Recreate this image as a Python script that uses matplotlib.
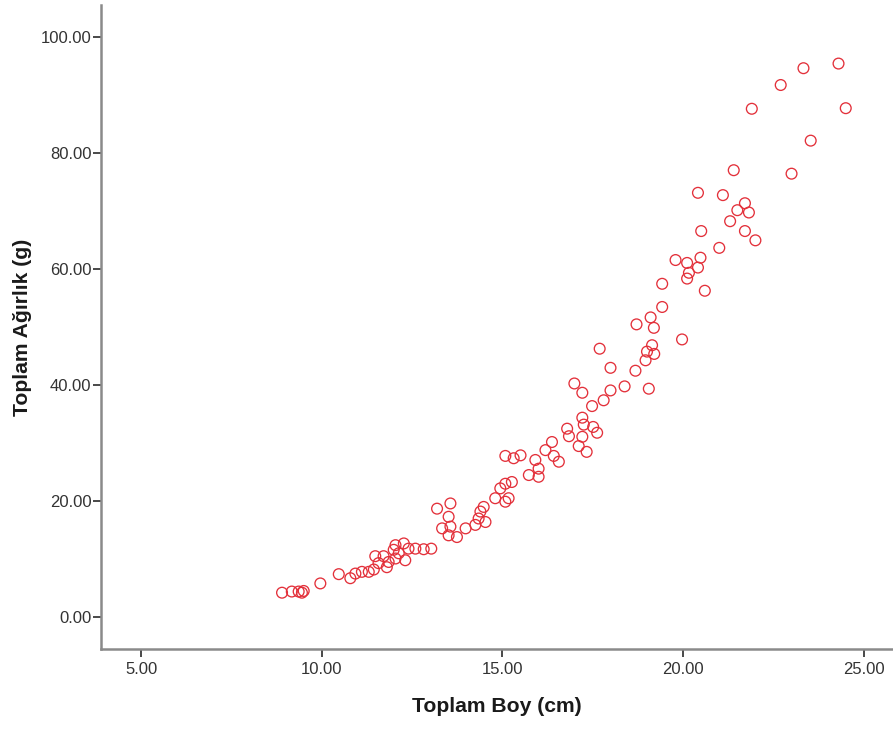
import matplotlib
matplotlib.use("Agg")
import matplotlib.pyplot as plt

# Toplam Boy (cm)
boy = [8.90, 9.17, 9.36, 9.50, 9.45, 9.96, 10.47, 10.79, 10.93, 11.11,
       11.30, 11.44, 11.48, 11.57, 11.71, 11.80, 11.85, 11.99, 12.04, 12.04,
       12.13, 12.27, 12.31, 12.40, 12.59, 12.82, 13.03,
       13.19, 13.56, 13.51, 13.33, 13.56, 13.51, 13.74, 13.98, 14.25, 14.34,
       14.53, 14.39, 14.48, 14.80, 14.94, 15.08, 15.26, 15.17, 15.08, 15.08,
       15.31, 15.50, 15.91, 16.00, 15.73, 16.00, 16.19, 16.37, 16.42, 16.56,
       16.79, 16.84, 16.99, 17.21, 17.11, 17.33, 17.21, 17.25, 17.51, 17.62,
       17.21, 17.48, 17.80, 17.99, 17.69, 17.99, 18.38, 18.68, 18.96, 19.05,
       19.14, 19.00, 19.20, 18.71, 19.19, 19.10, 19.42, 19.42, 19.97, 19.79,
       20.11, 20.48, 20.41, 20.16, 20.11, 20.60, 21.00, 20.50, 20.41, 21.10,
       21.71, 21.50, 21.82, 21.30, 21.71, 22.00, 21.40, 21.90, 22.70, 23.33,
       24.30, 24.50, 23.53, 23.00]

# Toplam Ağırlık (g)
agirlik = [4.2, 4.4, 4.4, 4.5, 4.2, 5.8, 7.4, 6.7, 7.5, 7.8,
           7.8, 8.2, 10.5, 9.3, 10.5, 8.6, 9.5, 11.6, 10.1, 12.4,
           11.0, 12.7, 9.8, 11.8, 11.8, 11.7, 11.8,
           18.7, 19.6, 17.3, 15.3, 15.6, 14.1, 13.8, 15.3, 15.9, 17.0,
           16.4, 18.2, 19.0, 20.5, 22.2, 23.0, 23.3, 20.5, 19.9, 27.8,
           27.4, 27.9, 27.1, 25.6, 24.5, 24.2, 28.8, 30.2, 27.8, 26.8,
           32.5, 31.2, 40.3, 38.7, 29.5, 28.5, 34.4, 33.2, 32.8, 31.8,
           31.1, 36.4, 37.4, 39.1, 46.3, 43.0, 39.8, 42.5, 44.3, 39.4,
           46.9, 45.8, 45.4, 50.5, 49.9, 51.7, 53.5, 57.5, 47.9, 61.6,
           61.1, 62.0, 60.3, 59.4, 58.4, 56.3, 63.7, 66.6, 73.2, 72.8,
           71.4, 70.2, 69.8, 68.3, 66.6, 65.0, 77.1, 87.7, 91.8, 94.7,
           95.5, 87.8, 82.2, 76.5]

xticks = [5, 10, 15, 20, 25]
yticks = [0, 20, 40, 60, 80, 100]

plt.rcParams['font.family'] = ['Liberation Sans', 'DejaVu Sans']

fig = plt.figure(figsize=(8.93, 7.29), dpi=100)
ax = fig.add_axes([0.1131, 0.1097, 0.887, 0.8834])

ax.scatter(boy, agirlik, s=60, facecolors='none', edgecolors='#e3303a',
           linewidths=0.95, zorder=3)

ax.set_xlim(3.89, 25.81)
ax.set_ylim(-5.52, 105.6)
ax.set_xticks(xticks)
ax.set_yticks(yticks)
ax.set_xticklabels([f"{v:.2f}" for v in xticks])
ax.set_yticklabels([f"{v:.2f}" for v in yticks])

for side in ['top', 'right']:
    ax.spines[side].set_visible(False)
for side in ['left', 'bottom']:
    ax.spines[side].set_color('#8a8a8a')
    ax.spines[side].set_linewidth(1.8)

ax.tick_params(axis='both', direction='out', length=6, width=1.3,
               color='#3a3a3a', labelcolor='#333333', labelsize=12)
ax.tick_params(axis='y', pad=1)
ax.tick_params(axis='x', pad=3)

ax.set_xlabel("Toplam Boy (cm)", fontsize=15.2, fontweight='bold',
              color='#1a1a1a', labelpad=15)
ax.set_ylabel("Toplam Ağırlık (g)", fontsize=15.2, fontweight='bold',
              color='#1a1a1a', labelpad=6)

fig.savefig("out.png", dpi=100)
